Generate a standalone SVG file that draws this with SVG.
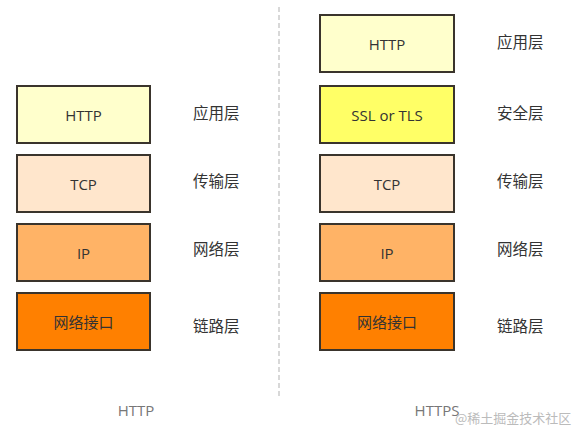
<svg xmlns="http://www.w3.org/2000/svg" width="577" height="438" viewBox="0 0 577 438">
<style>
.box{stroke:#3a342c;stroke-width:2}
.t{font-family:"Open Sans","Liberation Sans","Noto Sans CJK SC",sans-serif;font-size:15px;fill:#333;text-anchor:middle;dominant-baseline:central}
.l{font-family:"Noto Sans CJK SC","Liberation Sans",sans-serif;font-size:15.5px;fill:#333;text-anchor:start;dominant-baseline:central}
.cap{font-family:"Open Sans","Liberation Sans",sans-serif;font-size:15px;fill:#777;text-anchor:middle;dominant-baseline:central}
.wm{font-family:"Noto Sans CJK SC",sans-serif;font-size:13px;fill:#bbb;dominant-baseline:central}
</style>
<rect width="577" height="438" fill="#fff"/>
<g id="connectors">
<line x1="279" y1="7" x2="279" y2="398" stroke="#ccc" stroke-width="1.5" stroke-dasharray="5,3"/>
</g>
<g id="http-app"><rect class="box" x="17" y="86" width="133" height="57" fill="#ffffcc"/><text class="t" x="83.5" y="114.5">HTTP</text></g>
<g id="http-tcp"><rect class="box" x="17" y="155" width="133" height="57" fill="#ffe6cc"/><text class="t" x="83.5" y="183.5">TCP</text></g>
<g id="http-ip"><rect class="box" x="17" y="224" width="133" height="57" fill="#ffb366"/><text class="t" x="83.5" y="252.5">IP</text></g>
<g id="http-net"><rect class="box" x="17" y="293" width="133" height="57" fill="#ff8000"/><text class="t" x="83.5" y="321.5">网络接口</text></g>
<g id="https-app"><rect class="box" x="320" y="15" width="134" height="57" fill="#ffffcc"/><text class="t" x="387" y="43.5">HTTP</text></g>
<g id="https-ssl"><rect class="box" x="320" y="86" width="134" height="57" fill="#ffff66"/><text class="t" x="387" y="114.5">SSL or TLS</text></g>
<g id="https-tcp"><rect class="box" x="320" y="155" width="134" height="57" fill="#ffe6cc"/><text class="t" x="387" y="183.5">TCP</text></g>
<g id="https-ip"><rect class="box" x="320" y="224" width="134" height="57" fill="#ffb366"/><text class="t" x="387" y="252.5">IP</text></g>
<g id="https-net"><rect class="box" x="320" y="293" width="134" height="57" fill="#ff8000"/><text class="t" x="387" y="321.5">网络接口</text></g>
<g id="labels">
<text class="l" x="193" y="112">应用层</text>
<text class="l" x="193" y="180">传输层</text>
<text class="l" x="193" y="248">网络层</text>
<text class="l" x="193" y="325">链路层</text>
<text class="l" x="497" y="41">应用层</text>
<text class="l" x="497" y="112">安全层</text>
<text class="l" x="497" y="180">传输层</text>
<text class="l" x="497" y="248">网络层</text>
<text class="l" x="497" y="325">链路层</text>
<text class="cap" x="136" y="410">HTTP</text>
<text class="cap" x="437" y="410">HTTPS</text>
<text class="wm" x="455" y="417">@稀土掘金技术社区</text>
</g>
</svg>
